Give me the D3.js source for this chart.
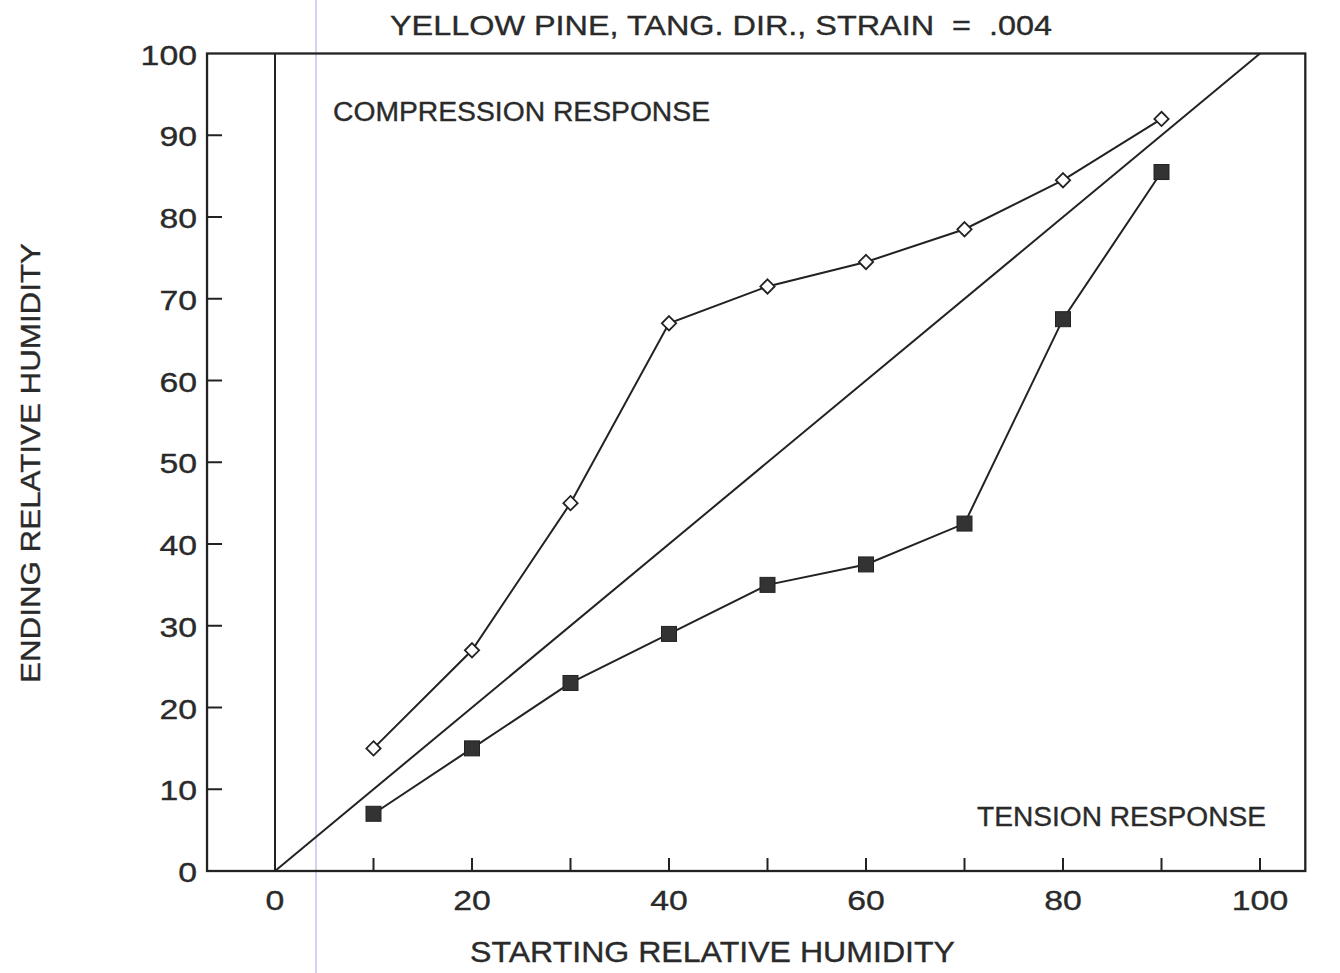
<!DOCTYPE html>
<html><head><meta charset="utf-8">
<script src="https://cdn.jsdelivr.net/npm/d3@7"></script>
<style>body{margin:0;background:#fff}svg text{font-family:"Liberation Sans",Arial,sans-serif;fill:#2a2a2a;stroke:#2a2a2a;stroke-width:0.35px}</style>
</head><body>
<svg id="c" width="1340" height="973"></svg>
<script>
const startRH = [10,20,30,40,50,60,70,80,90];
const compression = [15,27,45,67,71.5,74.5,78.5,84.5,92];
const tension = [7,15,23,29,35,37.5,42.5,67.5,85.5];
const xTickValues = [10,20,30,40,50,60,70,80,90,100];
const xLabelValues = [0,20,40,60,80,100];
const yTickValues = [0,10,20,30,40,50,60,70,80,90,100];

(function(){
const svg = d3.select("#c");
const x = d3.scaleLinear().domain([0,100]).range([275,1260]);
const y = d3.scaleLinear().domain([0,100]).range([871,53.5]);
const fL = x(-6.9), fR = x(104.6), fT = y(100), fB = y(0);
const ink = "#222";
const digitW = 18.8;

// scan artifact line
svg.append("line").attr("x1",316).attr("x2",316).attr("y1",0).attr("y2",973)
  .attr("stroke","#c8c0f0").attr("stroke-width",1.5);

// frame
svg.append("rect").attr("x",fL).attr("y",fT).attr("width",fR-fL).attr("height",fB-fT)
  .attr("fill","none").attr("stroke",ink).attr("stroke-width",2.3);

// x ticks (inward)
svg.append("g").selectAll("line").data(xTickValues).join("line")
  .attr("x1",d=>x(d)).attr("x2",d=>x(d)).attr("y1",fB).attr("y2",fB-13)
  .attr("stroke",ink).attr("stroke-width",2);
svg.append("g").selectAll("text").data(xLabelValues).join("text")
  .attr("x",d=>x(d)).attr("y",fB+39).attr("text-anchor","middle")
  .attr("font-size",28.5).attr("textLength",d=>String(d).length*digitW).attr("lengthAdjust","spacingAndGlyphs")
  .text(d=>d);

// y ticks
svg.append("g").selectAll("line").data(yTickValues.filter(d=>d>0&&d<100)).join("line")
  .attr("x1",fL).attr("x2",fL+15).attr("y1",d=>y(d)).attr("y2",d=>y(d))
  .attr("stroke",ink).attr("stroke-width",2);
svg.append("g").selectAll("text").data(yTickValues).join("text")
  .attr("x",fL-10).attr("y",d=>y(d)+11).attr("text-anchor","end")
  .attr("font-size",28.5).attr("textLength",d=>String(d).length*digitW).attr("lengthAdjust","spacingAndGlyphs")
  .text(d=>d);

// vertical line at 0 and diagonal
svg.append("line").attr("x1",x(0)).attr("x2",x(0)).attr("y1",fB).attr("y2",fT)
  .attr("stroke",ink).attr("stroke-width",2);
svg.append("line").attr("x1",x(0)).attr("y1",y(0)).attr("x2",x(100)).attr("y2",y(100))
  .attr("stroke",ink).attr("stroke-width",2);

const line = d3.line().x(d=>x(d[0])).y(d=>y(d[1]));
const comp = startRH.map((v,i)=>[v,compression[i]]);
const tens = startRH.map((v,i)=>[v,tension[i]]);
svg.append("path").attr("d",line(comp)).attr("fill","none").attr("stroke",ink).attr("stroke-width",2);
svg.append("path").attr("d",line(tens)).attr("fill","none").attr("stroke",ink).attr("stroke-width",2);

svg.append("g").selectAll("path").data(comp).join("path")
  .attr("d",d3.symbol(d3.symbolDiamond2,130)())
  .attr("transform",d=>`translate(${x(d[0])},${y(d[1])})`)
  .attr("fill","#fff").attr("stroke",ink).attr("stroke-width",1.8);
svg.append("g").selectAll("rect").data(tens).join("rect")
  .attr("x",d=>x(d[0])-7.5).attr("y",d=>y(d[1])-7.5).attr("width",15).attr("height",15)
  .attr("fill","#333").attr("stroke","#222").attr("stroke-width",1);

// texts
function label(xp, yp, size, len, txt, anchor){
  return svg.append("text").attr("x",xp).attr("y",yp).attr("font-size",size)
    .attr("text-anchor",anchor||"start")
    .attr("textLength",len).attr("lengthAdjust","spacingAndGlyphs").text(txt);
}
label(390, 35, 28.5, 662, "YELLOW PINE, TANG. DIR., STRAIN  =  .004").attr("xml:space","preserve");
label(333, 121, 27, 377, "COMPRESSION RESPONSE");
label(977, 826, 27, 289, "TENSION RESPONSE");
label(470, 962, 29, 485, "STARTING RELATIVE HUMIDITY");
svg.append("text").attr("transform","translate(40,683) rotate(-90)").attr("font-size",28.5)
  .attr("textLength",440).attr("lengthAdjust","spacingAndGlyphs")
  .text("ENDING RELATIVE HUMIDITY");
})();
</script>
</body></html>
